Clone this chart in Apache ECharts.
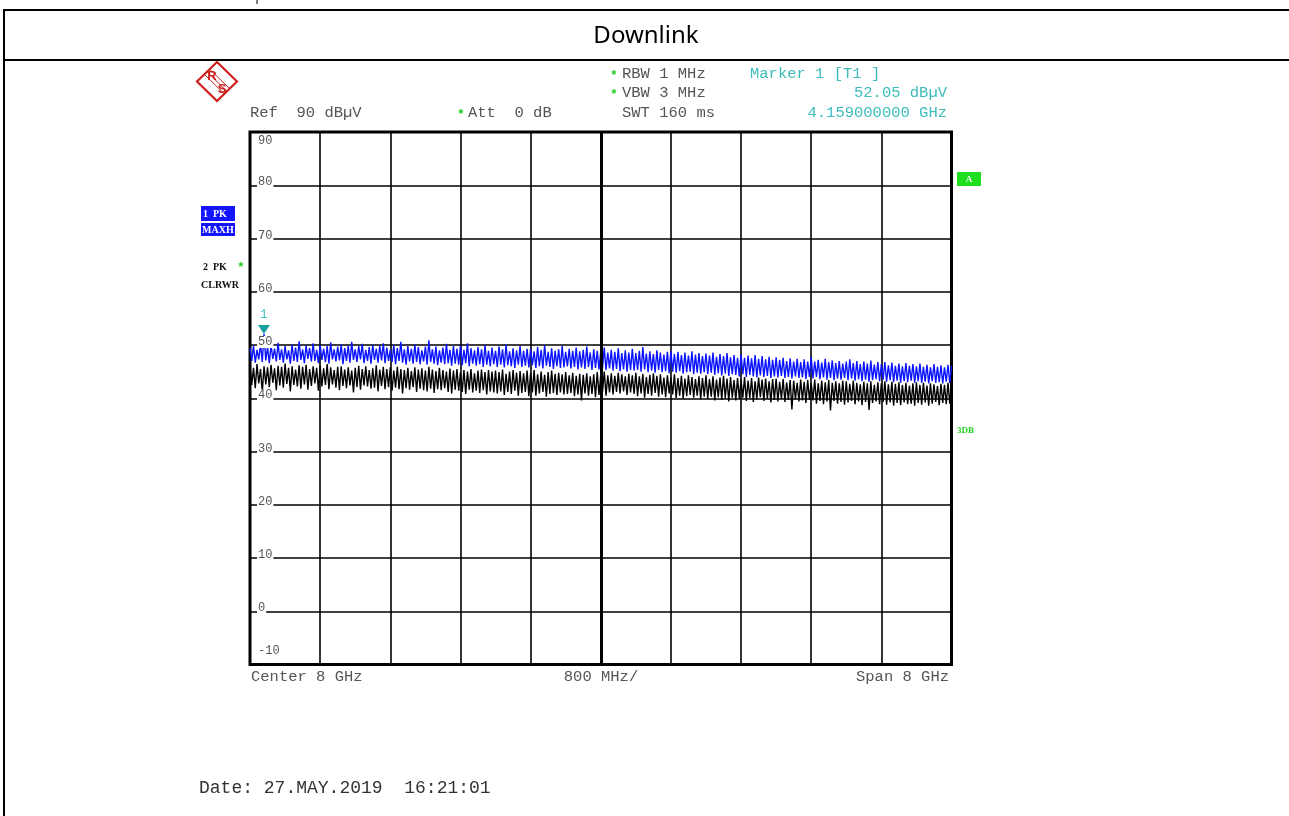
<!DOCTYPE html>
<html>
<head>
<meta charset="utf-8">
<title>Downlink</title>
<script src="https://cdn.jsdelivr.net/npm/echarts@6.0.0/dist/echarts.min.js"></script>
<style>
html, body { margin: 0; padding: 0; background: #fff; }
#main { width: 1289px; height: 816px; }
</style>
</head>
<body>
<div id="main"></div>
<script>
// sweep 4 .. 12 GHz (center 8 GHz, span 8 GHz, 800 MHz/div), 401 trace points
var freqStart = 4, freqStop = 12;
var yTicks = [90, 80, 70, 60, 50, 40, 30, 20, 10, 0, -10];
var marker1 = [4.159, 52.05];

// trace 1 PK MAXH (blue)
var maxHold = [
  49.4, 47.0, 49.9, 46.7, 49.1, 47.3, 50.2, 46.8, 52.05, 47.1, 49.6, 46.6, 50.0, 47.4, 49.3, 46.9, 50.4, 47.2, 49.2, 46.7,
  49.8, 47.3, 49.0, 46.5, 50.1, 47.0, 49.5, 46.8, 50.7, 47.2, 49.2, 46.6, 49.9, 47.4, 49.4, 46.9, 50.3, 47.0, 49.1, 46.6,
  50.0, 47.2, 49.3, 46.8, 49.8, 46.5, 50.5, 47.3, 49.2, 46.9, 49.7, 47.1, 50.1, 46.4, 49.4, 47.0, 49.9, 46.7, 50.6, 47.2,
  49.2, 46.8, 49.8, 47.3, 50.2, 46.6, 49.1, 47.0, 49.6, 46.5, 50.0, 47.2, 49.3, 46.7, 49.9, 47.1, 50.3, 46.6, 49.5, 47.0,
  49.1, 46.8, 50.0, 46.4, 49.4, 47.0, 50.6, 46.7, 49.2, 46.3, 49.8, 46.9, 49.3, 46.5, 50.1, 46.8, 49.6, 46.4, 49.0, 46.9,
  49.7, 46.3, 50.9, 46.8, 49.2, 46.5, 49.7, 46.2, 49.0, 46.7, 49.5, 46.4, 50.2, 46.6, 49.1, 46.1, 49.8, 46.5, 49.3, 46.3,
  49.9, 46.2, 49.1, 46.6, 50.3, 46.0, 49.4, 46.5, 49.0, 46.1, 49.6, 46.4, 49.2, 45.9, 50.0, 46.3, 48.9, 46.0, 49.5, 46.4,
  48.9, 45.9, 49.7, 46.3, 49.2, 45.8, 50.1, 46.2, 48.8, 46.0, 49.4, 45.7, 49.0, 46.3, 49.8, 45.9, 48.9, 46.1, 49.3, 45.8,
  49.3, 46.2, 48.8, 45.7, 49.6, 46.0, 49.1, 45.6, 50.0, 46.1, 48.7, 45.9, 49.4, 45.5, 48.9, 46.0, 49.2, 45.7, 49.8, 45.8,
  48.7, 46.0, 49.3, 45.6, 48.9, 45.9, 49.5, 45.4, 48.8, 45.8, 49.1, 45.5, 49.7, 45.9, 48.6, 45.3, 49.2, 45.7, 48.9, 45.4,
  48.8, 45.7, 49.5, 45.3, 48.6, 45.6, 49.1, 45.2, 48.7, 45.5, 49.4, 45.1, 48.5, 45.4, 49.0, 45.0, 48.6, 45.3, 49.3, 45.2,
  48.5, 45.3, 48.9, 45.0, 49.6, 45.4, 48.4, 44.9, 48.8, 45.2, 48.3, 44.8, 49.0, 45.3, 48.6, 44.9, 48.2, 45.1, 48.7, 44.7,
  48.9, 45.0, 48.3, 44.8, 48.7, 45.1, 48.1, 44.6, 48.6, 44.9, 48.0, 45.0, 48.8, 44.5, 48.2, 44.8, 48.5, 44.6, 47.9, 44.9,
  48.4, 44.5, 48.0, 44.8, 48.6, 44.4, 47.8, 44.7, 48.3, 44.3, 47.9, 44.6, 48.5, 44.2, 47.7, 44.5, 48.1, 44.4, 47.6, 44.1,
  48.2, 44.5, 47.6, 44.0, 48.0, 44.4, 47.5, 44.1, 48.1, 43.9, 47.4, 44.3, 47.9, 44.0, 47.3, 44.2, 47.8, 43.8, 47.2, 44.1,
  47.7, 43.9, 47.2, 44.2, 47.6, 43.8, 47.0, 44.0, 47.5, 43.7, 46.9, 44.1, 47.4, 43.8, 46.8, 43.9, 47.3, 43.6, 46.9, 44.0,
  47.8, 43.7, 46.9, 44.0, 47.2, 43.6, 46.7, 43.9, 47.4, 43.5, 46.8, 43.8, 47.1, 43.4, 46.6, 43.7, 47.0, 43.5, 46.5, 43.8,
  46.9, 43.4, 47.3, 43.7, 46.6, 43.3, 47.0, 43.6, 46.4, 43.2, 46.9, 43.5, 46.5, 43.1, 47.1, 43.4, 46.3, 43.6, 46.8, 43.2,
  46.4, 43.5, 46.8, 43.1, 46.2, 43.4, 46.7, 43.0, 46.1, 43.3, 46.5, 42.9, 46.0, 43.2, 46.6, 43.0, 46.1, 43.3, 46.4, 42.9,
  46.0, 43.2, 46.5, 42.9, 45.9, 43.1, 46.3, 42.8, 45.8, 43.2, 46.4, 42.9, 45.9, 43.0, 46.2, 42.8, 45.8, 43.1, 46.3, 42.9,
  46.1
];

// trace 2 PK CLRWR (black)
var clearWrite = [
  46.2, 42.5, 45.7, 41.9, 46.4, 42.8, 45.5, 41.2, 46.0, 42.6, 45.8, 42.1, 46.3, 42.9, 45.6, 41.5, 46.1, 42.4, 45.9, 42.0,
  46.5, 42.7, 45.7, 41.3, 46.0, 42.5, 45.4, 42.2, 46.2, 41.8, 45.9, 42.6, 46.3, 41.6, 45.5, 42.3, 46.0, 42.8, 45.7, 41.4,
  46.1, 42.2, 45.6, 42.5, 46.4, 41.7, 45.8, 42.6, 45.3, 42.0, 45.9, 41.5, 46.0, 42.3, 45.4, 41.9, 45.8, 42.4, 45.2, 41.1,
  45.7, 42.1, 46.1, 41.6, 45.5, 42.4, 46.0, 42.2, 45.3, 41.8, 45.6, 42.0, 46.2, 41.3, 45.4, 42.3, 45.9, 41.7, 45.5, 42.1,
  45.8, 41.4, 45.2, 42.0, 45.9, 41.7, 45.5, 40.9, 45.3, 41.9, 45.7, 41.6, 45.1, 42.1, 45.8, 41.2, 45.4, 41.8, 45.6, 41.5,
  45.2, 41.3, 45.9, 41.8, 45.4, 41.0, 45.1, 41.7, 45.7, 41.5, 45.3, 41.9, 45.0, 41.2, 45.6, 40.9, 45.2, 41.6, 45.5, 41.4,
  44.8, 41.2, 45.3, 40.8, 45.0, 41.6, 45.5, 41.1, 44.7, 41.4, 45.2, 41.0, 45.4, 41.5, 44.9, 40.7, 45.3, 41.3, 45.0, 41.1,
  45.2, 40.9, 44.9, 41.3, 45.4, 40.6, 44.6, 41.2, 45.0, 40.8, 45.3, 41.4, 44.8, 40.5, 45.1, 41.0, 44.7, 41.2, 45.2, 40.4,
  44.7, 41.1, 45.3, 40.5, 44.5, 40.9, 45.0, 41.2, 44.4, 40.3, 44.9, 40.8, 45.2, 41.0, 44.6, 40.6, 44.8, 41.1, 44.5, 40.7,
  44.9, 40.8, 44.3, 41.0, 44.8, 40.4, 44.2, 40.7, 44.6, 39.6, 44.4, 40.9, 44.7, 40.5, 44.1, 40.8, 44.5, 40.2, 44.9, 40.6,
  44.4, 41.2, 45.0, 40.5, 44.3, 41.1, 44.7, 40.7, 44.2, 41.2, 44.8, 40.9, 44.5, 41.3, 44.1, 40.6, 44.6, 41.1, 44.3, 40.8,
  44.8, 40.4, 44.1, 40.9, 44.6, 40.1, 44.0, 40.8, 44.4, 40.5, 44.7, 41.0, 44.2, 40.3, 44.5, 40.7, 43.9, 40.2, 44.3, 40.9,
  43.9, 40.7, 44.5, 40.0, 43.8, 40.5, 44.2, 39.9, 43.7, 40.4, 44.3, 40.6, 44.0, 40.1, 43.6, 40.5, 44.1, 39.8, 43.8, 40.3,
  44.3, 39.9, 43.6, 40.3, 44.1, 39.6, 43.5, 40.2, 43.9, 39.7, 44.2, 40.0, 43.7, 39.4, 44.0, 40.1, 43.4, 39.6, 43.8, 39.9,
  43.4, 40.1, 44.0, 39.5, 43.3, 40.0, 43.8, 39.3, 43.2, 39.8, 43.9, 40.2, 43.5, 39.5, 43.7, 39.9, 43.2, 39.2, 43.6, 39.7,
  43.7, 39.4, 43.1, 39.9, 43.6, 39.3, 43.0, 39.7, 43.4, 37.9, 43.3, 39.8, 42.9, 39.4, 43.5, 39.6, 43.1, 39.1, 43.4, 39.7,
  42.9, 39.6, 43.5, 39.0, 42.8, 39.5, 43.3, 38.9, 43.0, 39.4, 43.4, 37.7, 42.9, 39.5, 43.2, 39.0, 42.8, 39.3, 43.3, 38.8,
  43.2, 39.2, 42.7, 39.5, 43.3, 38.9, 42.9, 39.4, 42.6, 38.7, 43.1, 39.3, 42.8, 37.8, 43.2, 39.1, 42.5, 39.4, 43.0, 38.9,
  42.8, 39.3, 43.2, 38.8, 42.6, 39.2, 43.1, 38.6, 42.7, 39.1, 43.0, 38.7, 42.5, 39.2, 42.9, 38.9, 42.4, 39.0, 42.8, 38.6,
  43.0, 39.1, 42.5, 38.8, 42.9, 39.2, 42.4, 38.6, 42.8, 39.0, 42.6, 39.3, 42.3, 38.7, 42.7, 39.1, 42.5, 38.9, 42.9, 39.0,
  42.6
];

function sweep(arr) {
    var step = (freqStop - freqStart) / (arr.length - 1);
    return arr.map(function (v, i) { return [freqStart + i * step, v]; });
}

var mono = '"Liberation Mono", "DejaVu Sans Mono", monospace';
var grey = '#555';
var cyan = '#3cbcbc';
var green = '#22cc22';

function txt(x, y, s, o) {
    return {
        type: 'text', x: x, y: y, silent: true, z: 10,
        style: Object.assign({text: s, fill: grey, font: '15.5px ' + mono, verticalAlign: 'middle'}, o || {})
    };
}
function star(x, y) {
    return txt(x, y + 2, '*', {fill: green, font: 'bold 13px ' + mono, align: 'center'});
}

var frame = [
    {type: 'line', silent: true, shape: {x1: 4, y1: 10, x2: 1289, y2: 10}, style: {stroke: '#000', lineWidth: 2}},
    {type: 'line', silent: true, shape: {x1: 4, y1: 60, x2: 1289, y2: 60}, style: {stroke: '#000', lineWidth: 2}},
    {type: 'line', silent: true, shape: {x1: 4, y1: 9, x2: 4, y2: 816}, style: {stroke: '#000', lineWidth: 2}},
    {type: 'line', silent: true, shape: {x1: 257, y1: 0, x2: 257, y2: 4}, style: {stroke: '#000', lineWidth: 1}},
    txt(646, 36, 'Downlink', {fill: '#000', font: '24px "Noto Sans", "Open Sans", sans-serif', align: 'center'})
];

var logoRed = '#cc1f1f';
var logo = [
    {type: 'polygon', silent: true, shape: {points: [[217, 62], [237, 81.5], [217, 101], [197, 81.5]]},
        style: {fill: 'none', stroke: logoRed, lineWidth: 2.2}},
    {type: 'line', silent: true, shape: {x1: 204.5, y1: 74.5, x2: 224.5, y2: 94}, style: {stroke: logoRed, lineWidth: 1}},
    {type: 'line', silent: true, shape: {x1: 209.5, y1: 69, x2: 229.5, y2: 88.5}, style: {stroke: logoRed, lineWidth: 1}},
    {type: 'line', silent: true, shape: {x1: 207, y1: 71.8, x2: 227, y2: 91.3}, style: {stroke: logoRed, lineWidth: 1}},
    txt(212, 76, 'R', {fill: logoRed, font: 'bold 13px "Liberation Sans", sans-serif', align: 'center'}),
    txt(222, 89, 'S', {fill: logoRed, font: 'bold 13px "Liberation Sans", sans-serif', align: 'center'})
];

var header = [
    star(614, 74), txt(622, 74, 'RBW 1 MHz'),
    star(614, 93), txt(622, 93, 'VBW 3 MHz'),
    txt(622, 113, 'SWT 160 ms'),
    txt(750, 74, 'Marker 1 [T1 ]', {fill: cyan}),
    txt(947, 93, '52.05 dBµV', {fill: cyan, align: 'right'}),
    txt(947, 113, '4.159000000 GHz', {fill: cyan, align: 'right'}),
    txt(250, 113, 'Ref  90 dBµV'),
    star(461, 113), txt(468, 113, 'Att  0 dB'),
    txt(251, 677, 'Center 8 GHz'),
    txt(601, 677, '800 MHz/', {align: 'center'}),
    txt(949, 677, 'Span 8 GHz', {align: 'right'}),
    txt(199, 788, 'Date: 27.MAY.2019  16:21:01', {fill: '#333', font: '18px ' + mono})
];

var traceBadges = [
    {type: 'rect', silent: true, shape: {x: 201, y: 206, width: 34, height: 15}, style: {fill: '#1414ff'}},
    {type: 'rect', silent: true, shape: {x: 201, y: 223, width: 34, height: 13}, style: {fill: '#1414ff'}},
    txt(203, 214, '1  PK', {fill: '#fff', font: 'bold 10px "Liberation Serif", serif'}),
    txt(202, 230, 'MAXH', {fill: '#fff', font: 'bold 10px "Liberation Serif", serif'}),
    txt(203, 267, '2  PK', {fill: '#111', font: 'bold 10px "Liberation Serif", serif'}),
    star(241, 266),
    txt(201, 285, 'CLRWR', {fill: '#111', font: 'bold 10px "Liberation Serif", serif'}),
    {type: 'rect', silent: true, shape: {x: 957, y: 172, width: 24, height: 14}, style: {fill: '#1ee01e'}},
    txt(969, 179.5, 'A', {fill: '#fff', font: 'bold 9px "Liberation Serif", serif', align: 'center'}),
    txt(957, 431, '3DB', {fill: green, font: 'bold 9px "Liberation Serif", serif'})
];

var chart = echarts.init(document.getElementById('main'));
var option = {
    animation: false,
    backgroundColor: '#fff',
    grid: {
        left: 250, right: 337.5, top: 132, bottom: 151.5,
        show: true, borderColor: '#000', borderWidth: 3, backgroundColor: 'transparent'
    },
    xAxis: {
        type: 'value', min: freqStart, max: freqStop, interval: 0.8,
        axisLine: {show: false}, axisTick: {show: false}, axisLabel: {show: false},
        splitLine: {show: true, lineStyle: {color: '#000', width: 1.6}}
    },
    yAxis: {
        type: 'value', min: -10, max: 90, interval: 10,
        axisLine: {show: false}, axisTick: {show: false}, axisLabel: {show: false},
        splitLine: {show: true, lineStyle: {color: '#000', width: 1.6}}
    },
    series: [
        {
            name: '2 PK CLRWR', type: 'line', data: sweep(clearWrite),
            symbol: 'none', z: 3,
            lineStyle: {color: '#000', width: 1.4}
        },
        {
            name: '1 PK MAXH', type: 'line', data: sweep(maxHold),
            symbol: 'none', z: 4,
            lineStyle: {color: '#0a14ff', width: 1.4},
            markLine: {
                silent: true, symbol: 'none', label: {show: false},
                lineStyle: {color: '#000', width: 3, type: 'solid'},
                data: [{xAxis: (freqStart + freqStop) / 2}]
            },
            markPoint: {
                silent: true,
                data: [{
                    coord: marker1, symbol: 'triangle', symbolRotate: 180,
                    symbolSize: [12, 9], symbolOffset: [0, -4.5],
                    itemStyle: {color: '#17a0a0'},
                    label: {show: true, position: 'top', distance: 4, formatter: '1',
                        color: cyan, fontSize: 12, fontFamily: mono}
                }]
            }
        }
    ],
    graphic: []
};
chart.setOption(option);

// level labels sit inside the plot, just above each gridline
var levelLabels = yTicks.map(function (v, i) {
    var p = chart.convertToPixel({gridIndex: 0}, [freqStart, v]);
    var y = p[1] - 3;
    if (i === 0) y = p[1] + 9;
    if (i === yTicks.length - 1) y = p[1] - 14;
    return txt(p[0] + 7, y, String(v), {
        fill: '#555', font: '12px ' + mono, backgroundColor: '#fff', padding: [0, 1, 0, 1]
    });
});

chart.setOption({
    graphic: frame.concat(logo, header, traceBadges, levelLabels)
});
</script>
</body>
</html>
